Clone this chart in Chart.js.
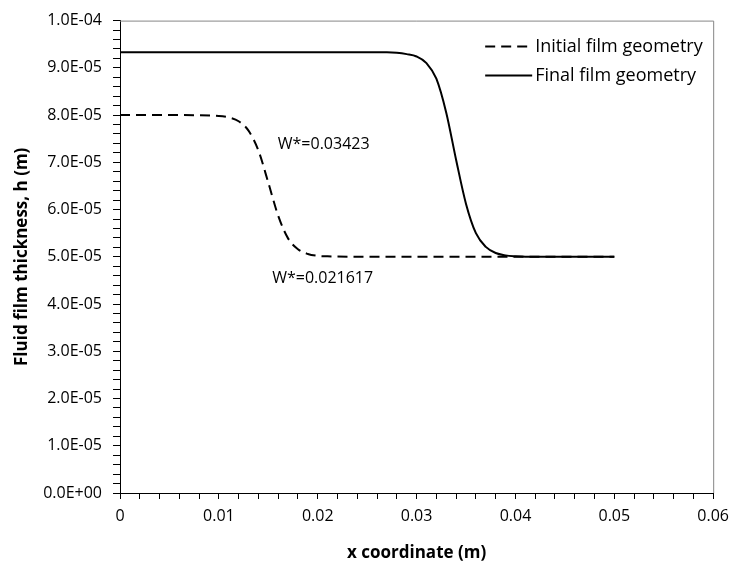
<!DOCTYPE html>
<html>
<head>
<meta charset="utf-8">
<script src="https://cdn.jsdelivr.net/npm/chart.js@4.4.1/dist/chart.umd.min.js"></script>
<style>
  html, body { margin: 0; padding: 0; background: #fff; }
  #wrap { width: 737px; height: 567px; }
</style>
</head>
<body>
<div id="wrap"><canvas id="filmChart" width="737" height="567"></canvas></div>
<script>
// values (x in m, h in m)
const initialX = [0, 0.005, 0.010, 0.011, 0.012, 0.013, 0.014, 0.015, 0.016, 0.017, 0.018, 0.019, 0.020, 0.021, 0.025, 0.030, 0.035, 0.040, 0.045, 0.050];
const initialH = [8.00e-5, 8.00e-5, 7.98e-5, 7.95e-5, 7.87e-5, 7.67e-5, 7.25e-5, 6.57e-5, 5.87e-5, 5.39e-5, 5.16e-5, 5.06e-5, 5.02e-5, 5.01e-5, 5.00e-5, 5.00e-5, 5.00e-5, 5.00e-5, 5.00e-5, 5.00e-5];

const finalX = [0, 0.005, 0.010, 0.015, 0.020, 0.025, 0.027, 0.028, 0.029, 0.030, 0.031, 0.032, 0.033, 0.034, 0.035, 0.036, 0.037, 0.038, 0.039, 0.040, 0.041, 0.045, 0.050];
const finalH = [9.33e-5, 9.33e-5, 9.33e-5, 9.33e-5, 9.33e-5, 9.33e-5, 9.33e-5, 9.32e-5, 9.29e-5, 9.24e-5, 9.10e-5, 8.77e-5, 8.05e-5, 7.05e-5, 6.12e-5, 5.50e-5, 5.21e-5, 5.08e-5, 5.03e-5, 5.01e-5, 5.00e-5, 5.00e-5, 5.00e-5];

const seriesLabels = ['Initial film geometry', 'Final film geometry'];
const noteTexts = ['W*=0.03423', 'W*=0.021617'];
const noteX = [0.0206, 0.0205];
const noteH = [7.37e-5, 4.55e-5];

const FONT = "'Open Sans', sans-serif";

function toPoints(xs, ys) {
    return xs.map((x, i) => ({ x: x, y: ys[i] }));
}

function sciLabel(v) {
    if (Math.abs(v) < 1e-12) return '0.0E+00';
    let e = Math.floor(Math.log10(Math.abs(v)) + 1e-9);
    let m = v / Math.pow(10, e);
    if (Math.round(m * 10) >= 100) { e += 1; m = v / Math.pow(10, e); }
    const sign = e < 0 ? '-' : '+';
    return m.toFixed(1) + 'E' + sign + String(Math.abs(e)).padStart(2, '0');
}

const extrasPlugin = {
    id: 'extras',
    afterDraw(chart) {
        const ctx = chart.ctx;
        const area = chart.chartArea;
        const xs = chart.scales.x;
        const ys = chart.scales.y;

        // top and right frame
        ctx.save();
        ctx.strokeStyle = '#868686';
        ctx.lineWidth = 1;
        ctx.beginPath();
        ctx.moveTo(area.left, area.top + 0.5);
        ctx.lineTo(area.right + 0.5, area.top + 0.5);
        ctx.lineTo(area.right + 0.5, area.bottom);
        ctx.stroke();

        // W* notes
        ctx.fillStyle = '#000';
        ctx.font = '16px ' + FONT;
        ctx.textAlign = 'center';
        ctx.textBaseline = 'middle';
        noteTexts.forEach((t, i) => {
            ctx.fillText(t, xs.getPixelForValue(noteX[i]), ys.getPixelForValue(noteH[i]));
        });

        // legend
        ctx.font = '18px ' + FONT;
        ctx.textAlign = 'left';
        chart.data.datasets.forEach((ds, i) => {
            const yy = area.top + 26 + i * 29;
            const x0 = area.right - 228;
            ctx.strokeStyle = ds.borderColor;
            ctx.lineWidth = ds.borderWidth;
            ctx.setLineDash(ds.borderDash || []);
            ctx.beginPath();
            ctx.moveTo(x0, yy);
            ctx.lineTo(x0 + 47, yy);
            ctx.stroke();
            ctx.setLineDash([]);
            ctx.fillText(ds.label, x0 + 50, yy);
        });
        ctx.restore();
    }
};

const chartConfig = {
    type: 'line',
    data: {
        datasets: [{
            label: seriesLabels[0],
            data: toPoints(initialX, initialH),
            borderColor: '#000',
            borderWidth: 2,
            borderDash: [10, 6],
            pointRadius: 0,
            cubicInterpolationMode: 'monotone',
            fill: false
        }, {
            label: seriesLabels[1],
            data: toPoints(finalX, finalH),
            borderColor: '#000',
            borderWidth: 2,
            pointRadius: 0,
            cubicInterpolationMode: 'monotone',
            fill: false
        }]
    },
    options: {
        responsive: false,
        animation: false,
        layout: { padding: { top: 18, right: 21, left: 0, bottom: 0 } },
        plugins: {
            legend: { display: false },
            tooltip: { enabled: false }
        },
        scales: {
            x: {
                type: 'linear',
                min: 0,
                max: 0.06,
                afterFit: s => { s.height = 74; },
                grid: { drawOnChartArea: false, color: '#000', tickLength: 6 },
                border: { color: '#000', width: 1 },
                ticks: {
                    stepSize: 0.002,
                    autoSkip: false,
                    maxRotation: 0,
                    padding: 8,
                    color: '#000',
                    font: { family: FONT, size: 16 },
                    callback: value => {
                        const n = Math.round(value / 0.002);
                        if (n % 5 !== 0) return '';
                        return n === 0 ? '0' : (n * 0.002).toFixed(2);
                    }
                },
                title: {
                    display: true,
                    text: 'x coordinate (m)',
                    color: '#000',
                    font: { family: FONT, size: 17, weight: 'bold' },
                    padding: { top: 0, bottom: 4 }
                }
            },
            y: {
                type: 'linear',
                min: 0,
                max: 1e-4,
                afterFit: s => { s.width = 120; },
                grid: { drawOnChartArea: false, color: '#000', tickLength: 7 },
                border: { color: '#000', width: 1 },
                ticks: {
                    stepSize: 2e-6,
                    autoSkip: false,
                    padding: 11,
                    color: '#000',
                    font: { family: FONT, size: 16 },
                    callback: value => {
                        const n = Math.round(value / 2e-6);
                        if (n % 5 !== 0) return '';
                        return sciLabel(n * 2e-6);
                    }
                },
                title: {
                    display: true,
                    text: 'Fluid film thickness, h (m)',
                    color: '#000',
                    font: { family: FONT, size: 17, weight: 'bold' },
                    padding: { top: 12, bottom: 0 }
                }
            }
        }
    },
    plugins: [extrasPlugin]
};

const filmChart = new Chart(document.getElementById('filmChart').getContext('2d'), chartConfig);
</script>
</body>
</html>
